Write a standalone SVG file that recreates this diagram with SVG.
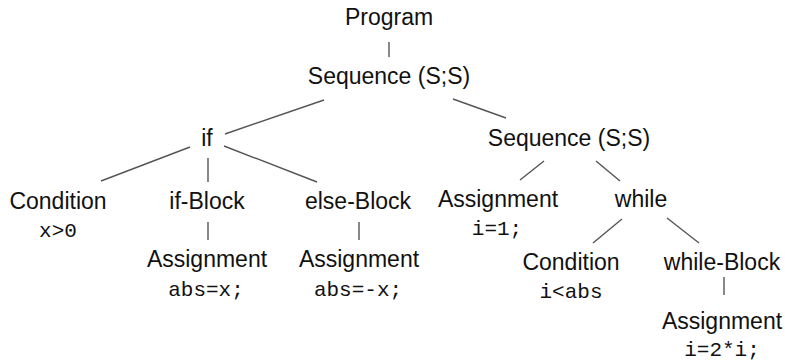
<svg xmlns="http://www.w3.org/2000/svg" width="785" height="362" viewBox="0 0 785 362">
<style>
.l{font-family:"Liberation Sans","DejaVu Sans",sans-serif;font-size:23px;fill:#111;text-anchor:middle}
.m{font-family:"Liberation Mono","DejaVu Sans Mono",monospace;font-size:21px;fill:#111;text-anchor:middle}
.e line{stroke:#555;stroke-width:1.4}
</style>
<rect width="785" height="362" fill="#fff"/>
<g class="e" id="connectors">
<line x1="389" y1="42" x2="389" y2="57"/>
<line x1="324" y1="100" x2="225" y2="134"/>
<line x1="453" y1="99" x2="506" y2="118"/>
<line x1="190" y1="147" x2="101" y2="181"/>
<line x1="208" y1="158" x2="208" y2="182"/>
<line x1="224" y1="146" x2="317" y2="182"/>
<line x1="544" y1="161" x2="520" y2="180"/>
<line x1="596" y1="161" x2="620" y2="181"/>
<line x1="208" y1="222" x2="208" y2="240"/>
<line x1="359" y1="222" x2="359" y2="240"/>
<line x1="622" y1="219" x2="593" y2="243"/>
<line x1="667" y1="218" x2="699" y2="243"/>
<line x1="724" y1="277" x2="724" y2="295"/>
</g>
<g id="program"><text class="l" x="389" y="25">Program</text></g>
<g id="seq1"><text class="l" x="389" y="84">Sequence (S;S)</text></g>
<g id="if"><text class="l" x="207" y="146">if</text></g>
<g id="seq2"><text class="l" x="569" y="146">Sequence (S;S)</text></g>
<g id="cond1"><text class="l" x="58" y="209">Condition</text><text class="m" x="58" y="237">x&gt;0</text></g>
<g id="ifblock"><text class="l" x="207" y="209">if-Block</text></g>
<g id="elseblock"><text class="l" x="358" y="209">else-Block</text></g>
<g id="assign3"><text class="l" x="498" y="207">Assignment</text><text class="m" x="497" y="235">i=1;</text></g>
<g id="while"><text class="l" x="641" y="207">while</text></g>
<g id="assign1"><text class="l" x="207" y="267">Assignment</text><text class="m" x="206" y="296">abs=x;</text></g>
<g id="assign2"><text class="l" x="359" y="267">Assignment</text><text class="m" x="358" y="296">abs=-x;</text></g>
<g id="cond2"><text class="l" x="571" y="270">Condition</text><text class="m" x="571" y="298">i&lt;abs</text></g>
<g id="whileblock"><text class="l" x="722" y="270">while-Block</text></g>
<g id="assign4"><text class="l" x="722" y="329">Assignment</text><text class="m" x="722" y="356">i=2*i;</text></g>
</svg>
